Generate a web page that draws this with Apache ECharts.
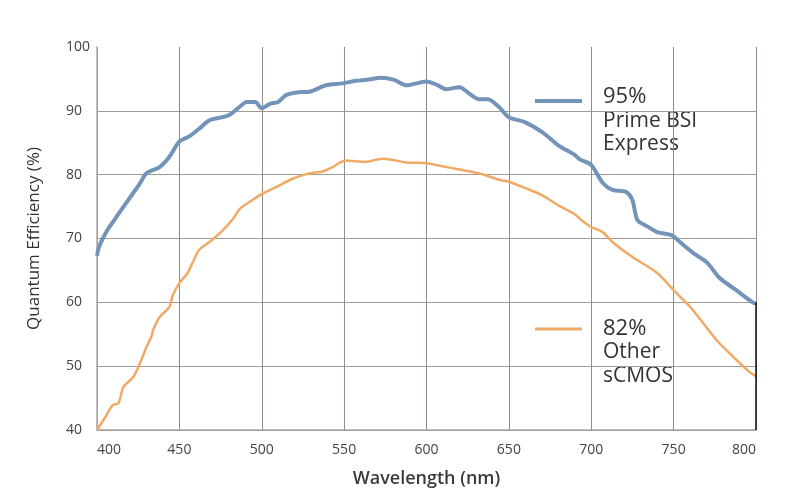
<!DOCTYPE html>
<html>
<head>
<meta charset="utf-8">
<script src="https://cdn.jsdelivr.net/npm/echarts@6/dist/echarts.min.js"></script>
<style>html,body{margin:0;padding:0;background:#fff}#c{width:800px;height:500px}</style>
</head>
<body>
<div id="c"></div>
<script>
var xTicks = [400, 450, 500, 550, 600, 650, 700, 750, 800];
var yTicks = [40, 50, 60, 70, 80, 90, 100];

var primeWl = [400, 401, 403.5, 407, 410, 414, 420, 426, 430, 438, 444, 450, 456, 462, 468, 474, 480, 486, 491, 496, 500, 505, 510, 515, 522, 529, 539, 549, 557, 565, 572, 580, 588, 594, 600, 606, 612, 620, 626, 632, 637, 644, 650, 660, 670, 680, 690, 693, 700, 707, 713, 721, 725, 728, 734, 740, 749, 754, 762, 770, 778, 788, 798, 800];
var primeQE = [67.3, 68.5, 70.0, 71.6, 72.7, 74.2, 76.4, 78.6, 80.2, 81.2, 82.8, 85.2, 86.0, 87.2, 88.5, 88.9, 89.3, 90.5, 91.4, 91.4, 90.4, 91.1, 91.4, 92.5, 92.9, 93.0, 94.0, 94.3, 94.7, 94.9, 95.2, 94.9, 94.0, 94.3, 94.6, 94.1, 93.4, 93.7, 92.7, 91.8, 91.8, 90.6, 89.0, 88.2, 86.7, 84.6, 83.1, 82.4, 81.5, 78.7, 77.6, 77.3, 76.0, 72.9, 71.9, 71.0, 70.5, 69.4, 67.7, 66.3, 63.8, 61.9, 60.0, 59.8];

var otherWl = [400, 405, 409.5, 413, 416, 422, 426, 430, 433, 434, 438, 444, 446, 450, 455, 458, 462, 470, 476, 482, 487, 493, 501, 509, 519, 529, 537, 543, 551, 563, 573, 580, 588, 600, 608, 620, 632, 644, 650, 660, 670, 680, 690, 694, 700, 707, 713, 725, 740, 750, 760, 766, 776, 786, 796, 800];
var otherQE = [40.0, 42.0, 43.9, 44.2, 46.7, 48.3, 50.4, 53.0, 54.6, 55.6, 57.7, 59.3, 61.1, 63.0, 64.6, 66.2, 68.2, 69.8, 71.2, 72.9, 74.7, 75.8, 77.1, 78.1, 79.4, 80.2, 80.5, 81.2, 82.2, 82.0, 82.5, 82.3, 81.9, 81.8, 81.4, 80.8, 80.2, 79.2, 78.9, 77.9, 76.8, 75.2, 73.8, 72.9, 71.8, 71.0, 69.4, 67.1, 64.6, 61.9, 59.3, 57.4, 54.1, 51.5, 49.1, 48.4];

function pairs(xs, ys) { return xs.map(function (x, i) { return [x, ys[i]]; }); }

var chart = echarts.init(document.getElementById('c'));
var FONT = '"Open Sans", Lato, sans-serif';
chart.setOption({
  backgroundColor: '#ffffff',
  animation: false,
  grid: { left: 97, right: 44, top: 47, bottom: 70 },
  xAxis: {
    type: 'value', min: xTicks[0], max: xTicks[xTicks.length - 1], interval: 50,
    name: 'Wavelength (nm)', nameLocation: 'middle', nameGap: 40,
    nameTextStyle: { fontFamily: FONT, fontSize: 18, fontWeight: 600, color: '#3a3a3a' },
    axisLine: { show: true, lineStyle: { color: '#a8a29e', width: 1.5 } },
    axisTick: { show: false },
    axisLabel: { fontFamily: FONT, fontSize: 14, color: '#444', margin: 13, alignMinLabel: 'left', alignMaxLabel: 'right' },
    splitLine: { show: true, lineStyle: { color: '#928a86', width: 1 } }
  },
  yAxis: {
    type: 'value', min: yTicks[0], max: yTicks[yTicks.length - 1], interval: 10,
    name: 'Quantum Efficiency (%)', nameLocation: 'middle', nameGap: 54, nameRotate: 90,
    nameTextStyle: { fontFamily: FONT, fontSize: 17, fontWeight: 'normal', color: '#333' },
    axisLine: { show: true, lineStyle: { color: '#b0aaa6', width: 1.5 } },
    axisTick: { show: false },
    axisLabel: { fontFamily: FONT, fontSize: 14, color: '#444', margin: 31, align: 'left' },
    splitLine: { show: true, showMaxLine: false, lineStyle: { color: '#a39894', width: 1 } }
  },
  series: [
    {
      name: 'Prime BSI Express', type: 'line', showSymbol: false, smooth: 0.3,
      data: pairs(primeWl, primeQE),
      lineStyle: { color: '#7393b9', width: 4 }, itemStyle: { color: '#7393b9' }
    },
    {
      name: 'Other sCMOS', type: 'line', showSymbol: false, smooth: 0.3,
      data: pairs(otherWl, otherQE),
      lineStyle: { color: '#f1aa66', width: 2.5 }, itemStyle: { color: '#f1aa66' },
      markLine: {
        silent: true, symbol: 'none', label: { show: false },
        lineStyle: { color: '#111', width: 1.5, type: 'solid' },
        data: [[{ coord: [800, 40] }, { coord: [800, 60] }]]
      }
    }
  ],
  graphic: [
    { type: 'line', shape: { x1: 535, y1: 101, x2: 582, y2: 101 }, style: { stroke: '#7393b9', lineWidth: 4 } },
    { type: 'text', left: 603, top: 86, style: { text: '95%', font: '22px ' + FONT, fill: '#333' } },
    { type: 'text', left: 603, top: 111, style: { text: 'Prime BSI', font: '21px ' + FONT, fill: '#333' } },
    { type: 'text', left: 603, top: 134, style: { text: 'Express', font: '21px ' + FONT, fill: '#333' } },
    { type: 'line', shape: { x1: 535, y1: 329, x2: 582, y2: 329 }, style: { stroke: '#f1aa66', lineWidth: 3 } },
    { type: 'text', left: 603, top: 318, style: { text: '82%', font: '22px ' + FONT, fill: '#333' } },
    { type: 'text', left: 603, top: 342, style: { text: 'Other', font: '21px ' + FONT, fill: '#333' } },
    { type: 'text', left: 603, top: 366, style: { text: 'sCMOS', font: '21px ' + FONT, fill: '#333' } }
  ]
});
</script>
</body>
</html>
